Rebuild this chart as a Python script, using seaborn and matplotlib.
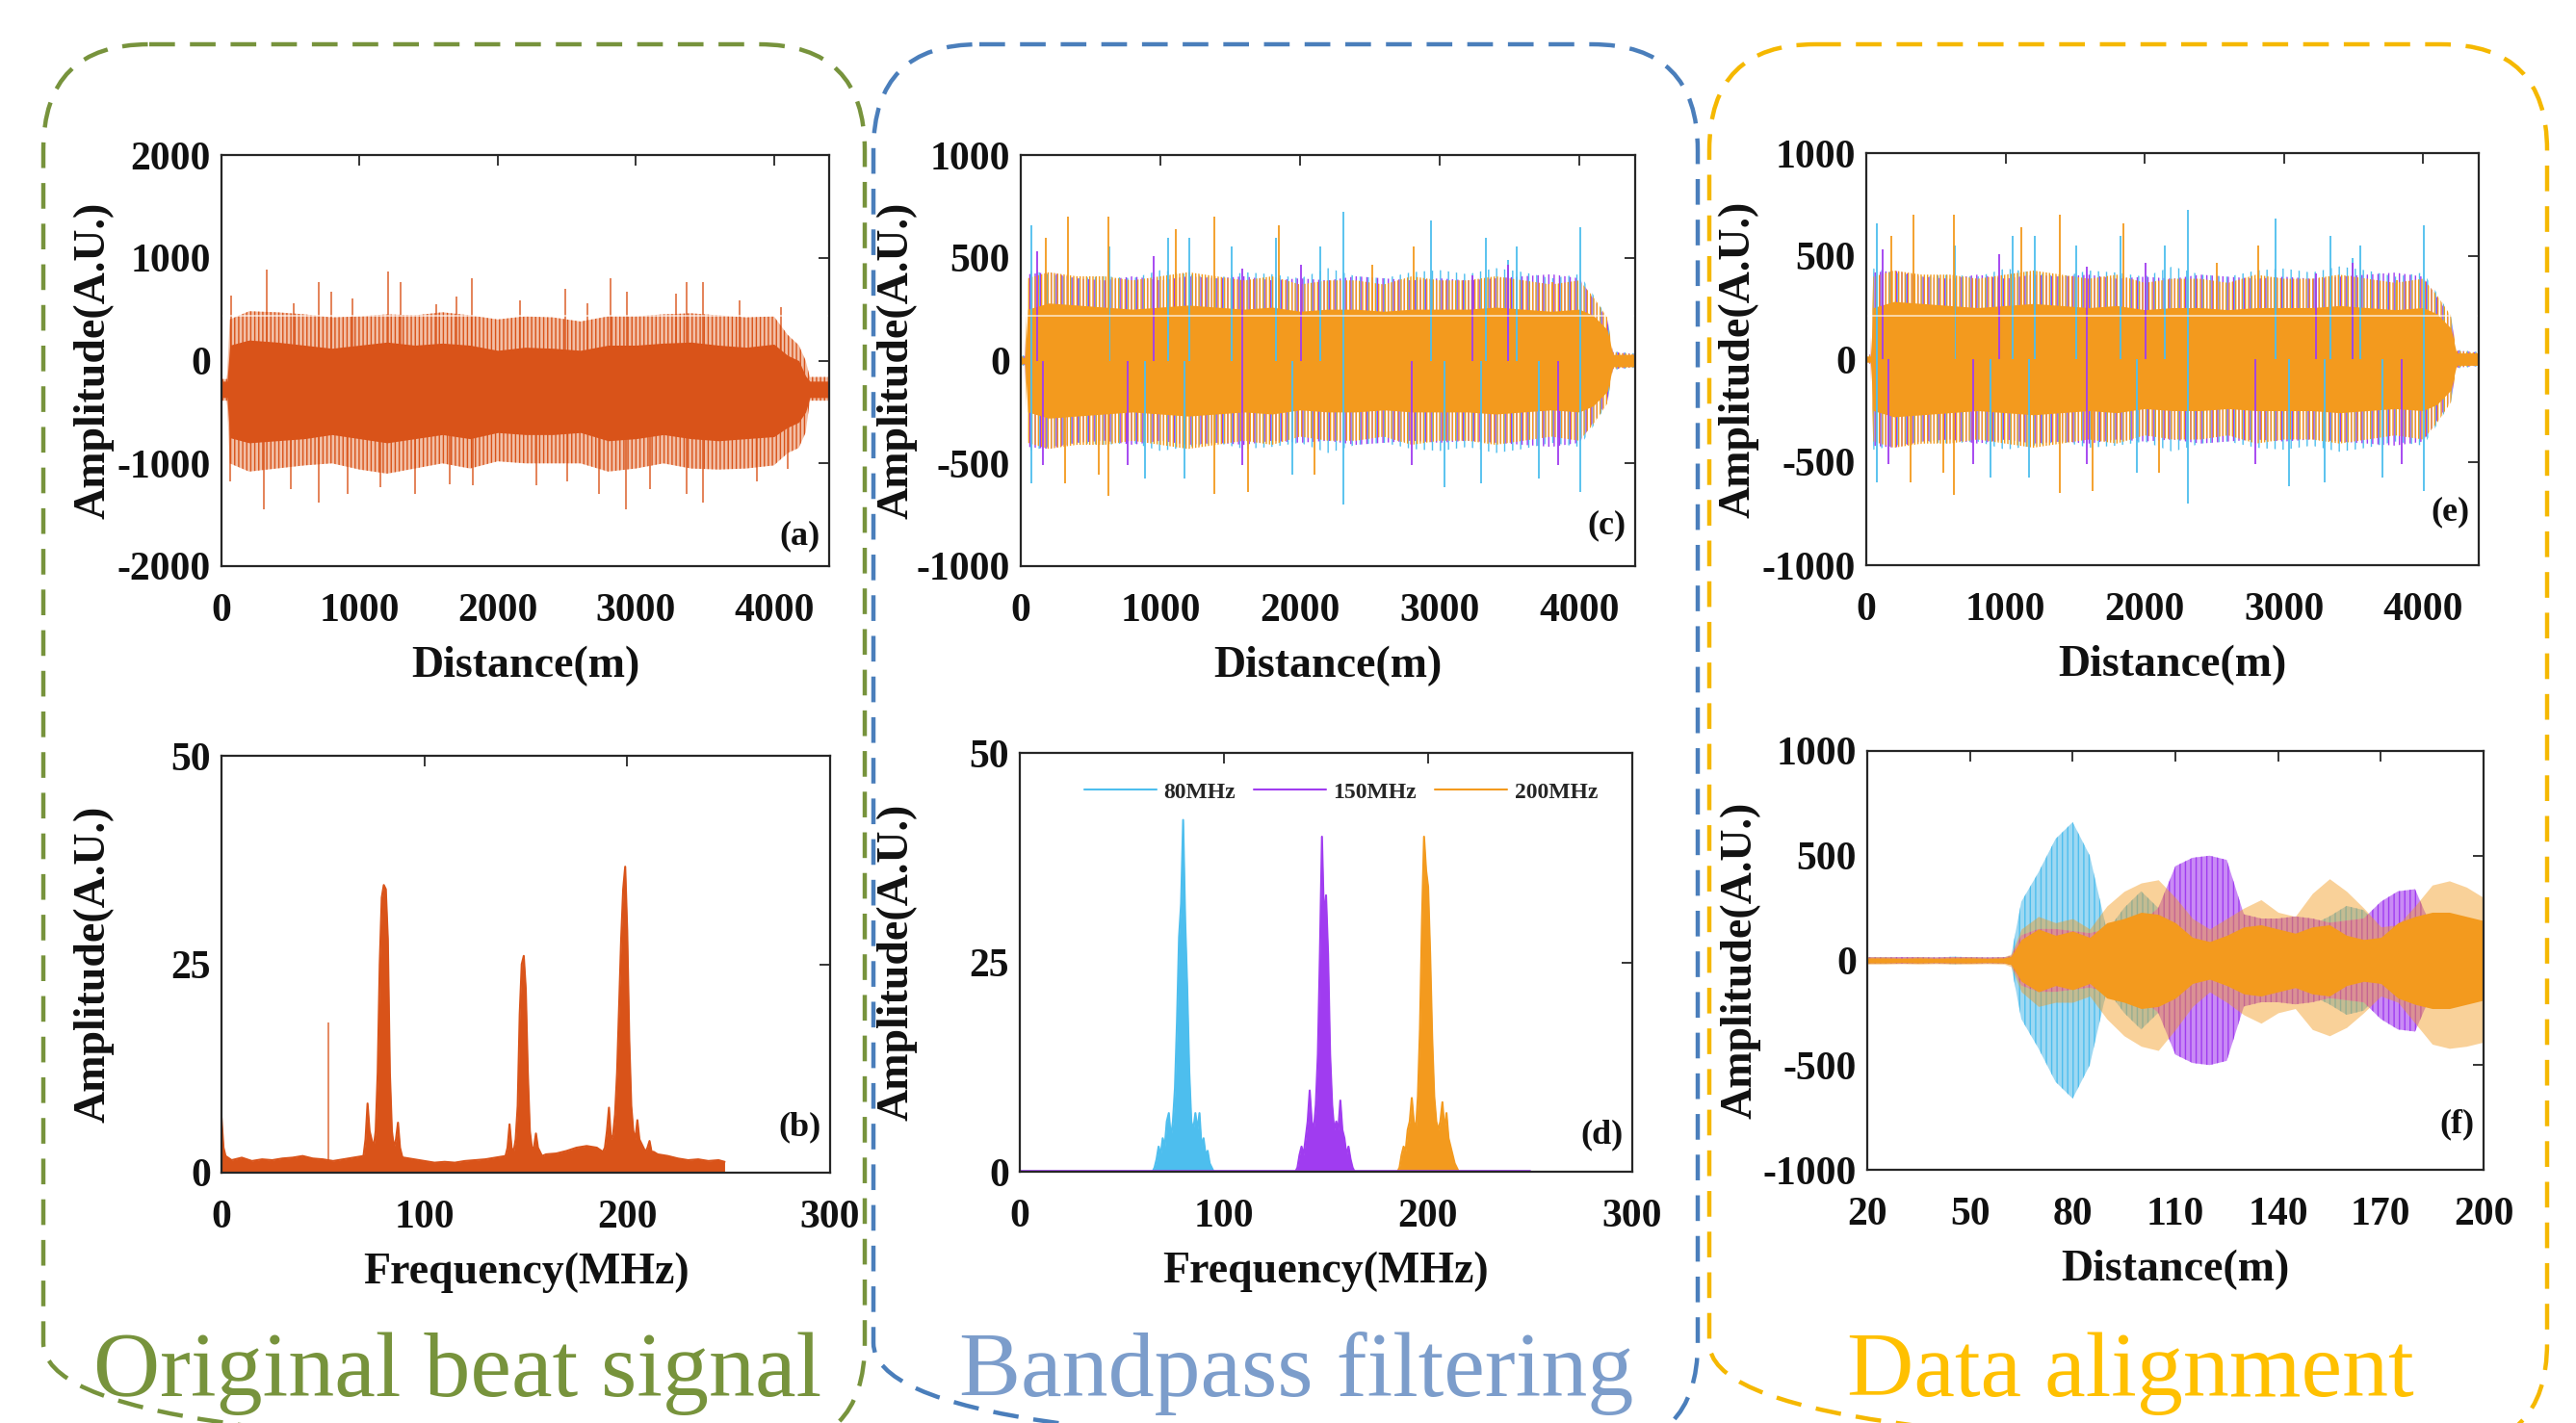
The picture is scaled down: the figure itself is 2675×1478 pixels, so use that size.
"""
Beat signal -> bandpass filtering -> data alignment, six panel figure.
"""

import matplotlib
matplotlib.use("Agg")
import matplotlib.pyplot as plt
import seaborn as sns
import pandas as pd
from matplotlib.patches import FancyBboxPatch

sns.set_theme(style="white")
plt.rcParams['font.family'] = ['Liberation Serif', 'DejaVu Serif']
plt.rcParams['font.weight'] = 'bold'
plt.rcParams['axes.labelweight'] = 'bold'
plt.rcParams['axes.unicode_minus'] = False
plt.rcParams['hatch.linewidth'] = 1.0

RED = '#D95319'
CYAN = '#4DBEEE'
PURPLE = '#A03CF0'
ORANGE = '#F39A1E'

# ---------------- (a) original beat signal, time domain ----------------
dist_a = [0, 40, 60, 200, 400, 600, 800, 1000, 1200, 1400, 1600, 1800, 2000, 2200,
          2400, 2600, 2800, 3000, 3200, 3400, 3600, 3800, 4000, 4100, 4180, 4230, 4260, 4400]
a_outer_hi = [-180, -180, 400, 480, 470, 450, 420, 430, 450, 440, 470, 440, 400, 430,
              420, 380, 430, 430, 450, 460, 440, 420, 430, 250, 150, 0, -160, -160]
a_outer_lo = [-390, -390, -1000, -1080, -1050, -1020, -1000, -1060, -1100, -1050, -1000, -1050, -980, -1000,
              -1000, -1000, -1080, -1050, -1000, -1050, -1060, -1050, -1020, -900, -850, -700, -390, -390]
a_core_hi = [-200, -200, 150, 200, 180, 150, 120, 150, 180, 150, 170, 150, 100, 130,
             120, 100, 150, 150, 170, 180, 150, 130, 160, 50, 0, -150, -200, -200]
a_core_lo = [-360, -360, -750, -800, -780, -760, -720, -760, -800, -760, -720, -760, -700, -720,
             -720, -700, -780, -760, -720, -760, -780, -760, -740, -650, -600, -500, -360, -360]
a_spike_up_x = [68, 330, 520, 704, 793, 950, 1207, 1296, 1557, 1700, 1811, 2161, 2491, 2650,
                2817, 2934, 3288, 3368, 3489, 3750, 4050]
a_spike_up_v = [630, 888, 560, 760, 674, 600, 867, 760, 545, 620, 803, 588, 695, 560,
                803, 674, 652, 760, 760, 588, 520]
a_spike_dn_x = [60, 310, 500, 704, 913, 1150, 1404, 1650, 1819, 2282, 2500, 2732, 2926, 3100,
                3368, 3489, 3879, 4100]
a_spike_dn_v = [-1172, -1450, -1250, -1386, -1300, -1230, -1300, -1200, -1215, -1215, -1180, -1300, -1450, -1250,
                -1300, -1386, -1172, -1050]
a_center = -300

# ---------------- (b) original beat signal, spectrum ----------------
b_floor_f = [0, 1, 2, 5, 10, 15, 20, 25, 30, 35, 40, 45, 50, 55, 60, 65, 70, 90, 95, 100, 105, 110,
             115, 120, 125, 130, 135, 140, 158, 160, 165, 170, 175, 180, 185, 188, 213, 215, 220,
             225, 230, 235, 240, 245, 248]
b_floor_a = [6.6, 3.0, 2.0, 1.5, 1.8, 1.4, 1.6, 1.5, 1.7, 1.8, 2.0, 1.7, 1.6, 1.4, 1.6, 1.8, 2.0, 1.8,
             1.6, 1.4, 1.2, 1.3, 1.2, 1.4, 1.5, 1.6, 1.8, 2.0, 2.0, 2.2, 2.3, 2.6, 3.0, 3.2, 3.0, 2.5,
             2.5, 2.2, 2.0, 1.7, 1.5, 1.6, 1.4, 1.5, 1.3]
b_p80_f = [70, 71, 72, 73, 74, 75, 76, 77, 78, 79, 80, 81, 82, 83, 84, 85, 86, 87, 88, 89, 90]
b_p80_a = [2, 4, 8.3, 5, 4, 3, 5, 12, 25, 33, 34.5, 34, 28, 12, 5, 3, 4, 6, 3, 2, 1.5]
b_p150_f = [140, 141, 142, 143, 144, 145, 146, 147, 148, 149, 150, 151, 152, 153, 154, 155, 156, 157, 158]
b_p150_a = [2, 3, 5.8, 3, 2.5, 4, 8, 19, 25, 26, 22, 12, 5, 3, 3, 4.7, 3, 2.5, 2]
b_p200_f = [188, 189, 190, 191, 192, 193, 194, 195, 196, 197, 198, 199, 200, 201, 202, 203, 204,
            205, 206, 207, 208, 209, 210, 211, 212, 213]
b_p200_a = [2.5, 3, 5, 7.8, 4, 4.5, 7, 12, 20, 28, 34, 36.7, 29, 16, 8, 5, 4, 6.3, 4, 3.5, 3,
            2.5, 3, 3.8, 2.5, 2]
b_line_f = 52.5
b_line_a = 18

# ---------------- (c)/(e) filtered signals, time domain ----------------
dist_c = [0, 30, 50, 200, 400, 600, 800, 1000, 1200, 1400, 1600, 1800, 2000, 2200, 2400,
          2600, 2800, 3000, 3200, 3400, 3600, 3800, 4000, 4100, 4200, 4240, 4400]
c_orange_core = [15, 15, 250, 280, 270, 260, 250, 260, 270, 260, 250, 260, 240, 250, 250,
                 240, 250, 250, 250, 260, 250, 240, 250, 220, 150, 30, 30]
c_orange_outer = [20, 20, 400, 430, 410, 410, 390, 410, 430, 410, 390, 410, 370, 390, 390,
                  370, 410, 390, 390, 410, 390, 370, 390, 310, 210, 40, 30]
c_cyan_outer = [25, 25, 440, 420, 400, 410, 400, 440, 420, 400, 430, 420, 400, 450, 410,
                400, 430, 440, 420, 450, 430, 400, 420, 320, 210, 45, 35]
c_purple_outer = [22, 22, 420, 430, 400, 390, 410, 390, 410, 400, 410, 390, 400, 390, 410,
                  400, 390, 400, 390, 400, 410, 420, 400, 300, 200, 42, 32]
c_cyan_up_x = [79, 635, 1052, 1210, 1508, 1825, 2143, 2310, 2937, 3333, 3492, 3552, 4008]
c_cyan_up_v = [660, 553, 596, 596, 553, 596, 553, 723, 681, 596, 489, 553, 649]
c_cyan_dn_x = [79, 893, 1171, 1944, 2310, 3036, 3294, 3710, 4008]
c_cyan_dn_v = [-596, -574, -574, -553, -702, -617, -596, -574, -638]
c_purple_up_x = [119, 952, 1587, 2004, 3234, 3492]
c_purple_up_v = [532, 510, 447, 468, 415, 468]
c_purple_dn_x = [159, 766, 1587, 2798, 3849]
c_purple_dn_v = [-510, -510, -510, -510, -510]
c_orange_up_x = [179, 337, 627, 1111, 1389, 1845, 2520, 2817, 3810]
c_orange_up_v = [596, 702, 702, 638, 702, 660, 468, 553, 383]
c_orange_dn_x = [317, 556, 627, 1389, 1627, 2103]
c_orange_dn_v = [-596, -553, -660, -649, -638, -553]

# ---------------- (d) filtered spectra ----------------
d_cyan_f = list(range(65, 96))
d_cyan_a = [0, 0.5, 1.5, 3, 2, 4, 3, 6, 7, 4, 6, 10, 18, 28, 32, 42, 30, 22, 12, 6, 5, 7, 5,
            7, 3, 4, 2, 2.5, 1, 0.5, 0]
d_purple_f = list(range(135, 165))
d_purple_a = [0, 0.5, 2, 3, 2, 4, 6, 9.7, 6, 5, 8, 14, 26, 40, 30, 33, 26, 14, 8, 5, 6, 5,
              8.5, 5, 4, 2, 3, 1.5, 0.5, 0]
d_orange_f = list(range(185, 216))
d_orange_a = [0, 0.5, 2, 3, 2.5, 5, 6, 8.8, 6, 5, 9, 17, 30, 40, 36, 34, 26, 16, 9, 6, 5, 6,
              8.3, 5, 7, 4, 3, 2, 1, 0.5, 0]
d_labels = ['80MHz', '150MHz', '200MHz']

# ---------------- (f) aligned signals, zoom 20-200 m ----------------
f_dist = [20, 25, 30, 35, 40, 45, 50, 55, 60, 62, 65, 70, 75, 80, 85, 90, 95, 100, 105, 110,
          115, 120, 125, 130, 135, 140, 145, 150, 155, 160, 165, 170, 175, 180, 185, 190, 195, 200]
f_cyan = [15, 15, 12, 15, 12, 18, 15, 12, 15, 20, 280, 420, 580, 660, 500, 140, 250, 330, 250, 150,
          130, 130, 140, 150, 150, 140, 150, 170, 210, 260, 240, 150, 130, 120, 120, 120, 120, 120]
f_purple = [15, 14, 16, 15, 14, 16, 15, 14, 15, 20, 120, 150, 150, 140, 130, 150, 140, 180, 250, 450,
            490, 500, 480, 220, 200, 200, 210, 200, 180, 190, 200, 280, 330, 340, 150, 130, 120, 120]
f_orange_hi = [18, 18, 16, 18, 16, 18, 18, 16, 18, 30, 150, 210, 180, 200, 150, 260, 330, 370, 385, 300,
               200, 150, 200, 250, 290, 230, 210, 320, 390, 330, 250, 160, 170, 260, 360, 380, 350, 300]
f_orange_lo = [-18, -18, -16, -18, -16, -18, -18, -16, -18, -30, -150, -220, -200, -200, -170, -280, -360,
               -410, -430, -330, -220, -150, -200, -260, -300, -250, -230, -330, -360, -320, -250, -170,
               -200, -300, -400, -420, -410, -390]
f_orange_core = [12, 12, 10, 12, 10, 12, 12, 10, 12, 20, 100, 150, 120, 140, 110, 180, 200, 230, 220,
                 180, 110, 90, 120, 160, 170, 150, 130, 160, 170, 120, 100, 110, 180, 210, 230, 230,
                 210, 190]


def style_axes(ax, xlim, xticks, ylim, yticks, xlabel, tag, tag_y, ylab_x):
    ax.set_xlim(xlim)
    ax.set_xticks(xticks)
    ax.set_ylim(ylim)
    ax.set_yticks(yticks)
    ax.tick_params(direction='in', top=True, right=True, length=8, width=1.3,
                   color='#262626', labelcolor='#111111', labelsize=30)
    ax.tick_params(axis='x', pad=20)
    ax.tick_params(axis='y', pad=8)
    for sp in ax.spines.values():
        sp.set_linewidth(1.6)
        sp.set_color('#262626')
        sp.set_visible(True)
    ax.set_facecolor('white')
    ax.set_xlabel(xlabel, fontsize=33, labelpad=12, color='#111111')
    ax.set_ylabel('Amplitude(A.U.)', fontsize=33, color='#111111')
    ax.yaxis.set_label_coords(ylab_x, 0.5)
    ax.text(0.985, tag_y, tag, transform=ax.transAxes, ha='right', va='bottom',
            fontsize=26, fontweight='bold', color='#111111', zorder=20)


def draw_time_panel(ax):
    # filtered, time domain: cyan, purple, then orange strands on top
    ax.fill_between(dist_c, [-v for v in c_cyan_outer], c_cyan_outer, facecolor='none',
                    edgecolor=CYAN, hatch='||', lw=0)
    ax.vlines(c_cyan_up_x, 0, c_cyan_up_v, color=CYAN, lw=1.3)
    ax.vlines(c_cyan_dn_x, 0, c_cyan_dn_v, color=CYAN, lw=1.3)
    ax.fill_between(dist_c, [-v for v in c_purple_outer], c_purple_outer, facecolor='none',
                    edgecolor=PURPLE, hatch='|||', lw=0)
    ax.vlines(c_purple_up_x, 0, c_purple_up_v, color=PURPLE, lw=1.3)
    ax.vlines(c_purple_dn_x, 0, c_purple_dn_v, color=PURPLE, lw=1.3)
    ax.fill_between(dist_c, [-v for v in c_orange_outer], c_orange_outer, facecolor='none',
                    edgecolor=ORANGE, hatch='|||||', lw=0)
    ax.vlines(c_orange_up_x, 0, c_orange_up_v, color=ORANGE, lw=1.3)
    ax.vlines(c_orange_dn_x, 0, c_orange_dn_v, color=ORANGE, lw=1.3)
    ax.fill_between(dist_c, [-v for v in c_orange_core], c_orange_core, color=ORANGE, lw=0)


W, H = 2675, 1478
fig = plt.figure(figsize=(W / 100, H / 100), dpi=100)
fig.patch.set_facecolor('white')

ax_a = fig.add_axes([230 / W, 1 - 588 / H, 631 / W, 427 / H])
ax_b = fig.add_axes([230 / W, 1 - 1218 / H, 632 / W, 433 / H])
ax_c = fig.add_axes([1060 / W, 1 - 588 / H, 638 / W, 427 / H])
ax_d = fig.add_axes([1059 / W, 1 - 1217 / H, 636 / W, 435 / H])
ax_e = fig.add_axes([1938 / W, 1 - 587 / H, 636 / W, 428 / H])
ax_f = fig.add_axes([1939 / W, 1 - 1215 / H, 640 / W, 435 / H])

# (a)
ax_a.fill_between(dist_a, a_outer_lo, a_outer_hi, facecolor='#F2BFA6', edgecolor=RED,
                  hatch='||||', lw=0)
ax_a.vlines(a_spike_up_x, a_center, a_spike_up_v, color=RED, lw=1.2, alpha=0.85)
ax_a.vlines(a_spike_dn_x, a_center, a_spike_dn_v, color=RED, lw=1.2, alpha=0.85)
ax_a.fill_between(dist_a, a_core_lo, a_core_hi, color=RED, lw=0)
style_axes(ax_a, (0, 4400), [0, 1000, 2000, 3000, 4000], (-2000, 2000),
           [-2000, -1000, 0, 1000, 2000], 'Distance(m)', '(a)', 0.035, -0.177)

# (b)
for f, a in [(b_floor_f, b_floor_a), (b_p80_f, b_p80_a), (b_p150_f, b_p150_a), (b_p200_f, b_p200_a)]:
    ax_b.fill_between(f, 0, a, color=RED, lw=0)
    sns.lineplot(x=f, y=a, ax=ax_b, color=RED, lw=1.5, estimator=None, sort=False)
ax_b.vlines([b_line_f], 0, [b_line_a], color=RED, lw=1.2, alpha=0.8)
style_axes(ax_b, (0, 300), [0, 100, 200, 300], (0, 50), [0, 25, 50],
           'Frequency(MHz)', '(b)', 0.07, -0.177)

# (c) and (e)
draw_time_panel(ax_c)
style_axes(ax_c, (0, 4400), [0, 1000, 2000, 3000, 4000], (-1000, 1000),
           [-1000, -500, 0, 500, 1000], 'Distance(m)', '(c)', 0.06, -0.168)
draw_time_panel(ax_e)
style_axes(ax_e, (0, 4400), [0, 1000, 2000, 3000, 4000], (-1000, 1000),
           [-1000, -500, 0, 500, 1000], 'Distance(m)', '(e)', 0.09, -0.175)

# (d)
spec = pd.concat([
    pd.DataFrame({'freq': d_cyan_f, 'amp': d_cyan_a, 'band': d_labels[0]}),
    pd.DataFrame({'freq': d_purple_f, 'amp': d_purple_a, 'band': d_labels[1]}),
    pd.DataFrame({'freq': d_orange_f, 'amp': d_orange_a, 'band': d_labels[2]}),
])
pal = {d_labels[0]: CYAN, d_labels[1]: PURPLE, d_labels[2]: ORANGE}
for lab in d_labels:
    sub = spec[spec['band'] == lab]
    ax_d.fill_between(sub['freq'], 0, sub['amp'], color=pal[lab], lw=0)
sns.lineplot(data=spec, x='freq', y='amp', hue='band', palette=pal, ax=ax_d,
             lw=1.5, estimator=None, sort=False)
ax_d.plot([0, 250], [0.15, 0.15], color=PURPLE, lw=1.2)
leg = ax_d.legend(loc='center', bbox_to_anchor=(0.524, 0.906), ncol=3, frameon=False,
                  handlelength=3.2, handletextpad=0.3, columnspacing=0.8,
                  prop={'family': 'Liberation Serif', 'weight': 'bold', 'size': 17})
for h in leg.get_lines():
    h.set_linewidth(1.5)
style_axes(ax_d, (0, 300), [0, 100, 200, 300], (0, 50), [0, 25, 50],
           'Frequency(MHz)', '(d)', 0.05, -0.168)

# (f)
ax_f.fill_between(f_dist, [-v for v in f_cyan], f_cyan, facecolor='#9ED8F2',
                  edgecolor=CYAN, hatch='|||', lw=0)
ax_f.fill_between(f_dist, [-v for v in f_purple], f_purple, facecolor='#C98BF5',
                  edgecolor=PURPLE, hatch='|||', lw=0)
ax_f.fill_between(f_dist, f_orange_lo, f_orange_hi, facecolor=ORANGE, alpha=0.45, lw=0)
ax_f.fill_between(f_dist, [-v for v in f_orange_core], f_orange_core, color=ORANGE, lw=0)
style_axes(ax_f, (20, 200), [20, 50, 80, 110, 140, 170, 200], (-1000, 1000),
           [-1000, -500, 0, 500, 1000], 'Distance(m)', '(f)', 0.07, -0.173)

# overlay in pixel units for the dashed boxes and captions
ov = fig.add_axes([0, 0, 1, 1], zorder=30)
ov.set_xlim(0, W)
ov.set_ylim(H, 0)
ov.axis('off')
ov.patch.set_alpha(0)

boxes = [(45, 898, '#77933C'), (907, 1763, '#4A7EBB'), (1775, 2645, '#F5B800')]
for x0, x1, col in boxes:
    ov.add_patch(FancyBboxPatch((x0, 46), x1 - x0, 1505 - 46,
                                boxstyle='round,pad=0,rounding_size=110',
                                fill=False, edgecolor=col, lw=3.2,
                                linestyle=(0, (6, 3.5)), clip_on=False))

# faint scan seam across the top row
for x0, x1 in [(232, 859), (1062, 1696), (1940, 2572)]:
    ov.plot([x0, x1], [328, 328], color='white', lw=1.2, alpha=0.7)

ov.text(475, 1450, 'Original beat signal', ha='center', va='baseline', fontsize=69,
        fontweight='normal', color='#77933C', family='Liberation Serif')
ov.text(1346, 1450, 'Bandpass filtering', ha='center', va='baseline', fontsize=69,
        fontweight='normal', color='#7C9DCB', family='Liberation Serif')
ov.text(2212, 1450, 'Data alignment', ha='center', va='baseline', fontsize=69,
        fontweight='normal', color='#FFC000', family='Liberation Serif')

fig.savefig('out.png', dpi=100, facecolor='white')
